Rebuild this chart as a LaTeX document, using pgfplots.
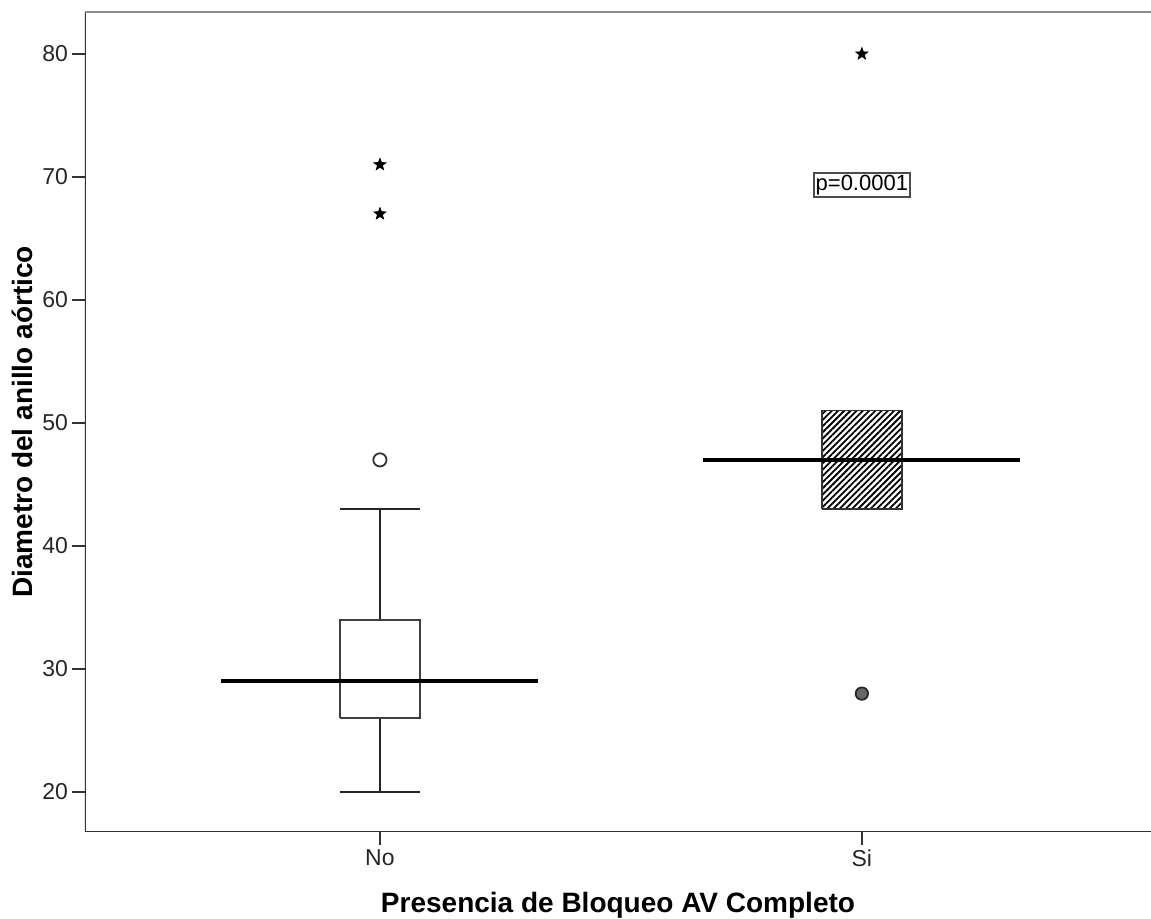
\documentclass[border=0pt]{standalone}
\usepackage{fontspec}
\setmainfont{Liberation Sans}
\usepackage{pgfplots}
\pgfplotsset{compat=1.18}
\usetikzlibrary{patterns.meta}

% filled five-pointed star for extreme values
\pgfdeclareplotmark{fstar}{%
  \pgfpathmoveto{\pgfpointpolar{90}{\pgfplotmarksize}}%
  \pgfpathlineto{\pgfpointpolar{126}{0.42\pgfplotmarksize}}%
  \pgfpathlineto{\pgfpointpolar{162}{\pgfplotmarksize}}%
  \pgfpathlineto{\pgfpointpolar{198}{0.42\pgfplotmarksize}}%
  \pgfpathlineto{\pgfpointpolar{234}{\pgfplotmarksize}}%
  \pgfpathlineto{\pgfpointpolar{270}{0.42\pgfplotmarksize}}%
  \pgfpathlineto{\pgfpointpolar{306}{\pgfplotmarksize}}%
  \pgfpathlineto{\pgfpointpolar{342}{0.42\pgfplotmarksize}}%
  \pgfpathlineto{\pgfpointpolar{18}{\pgfplotmarksize}}%
  \pgfpathlineto{\pgfpointpolar{54}{0.42\pgfplotmarksize}}%
  \pgfpathclose
  \pgfusepathqfillstroke
}

\begin{document}
\begin{tikzpicture}
\useasboundingbox (-42.5pt,-43.5pt) rectangle (533pt,416pt);
\begin{axis}[
  scale only axis,
  width=533pt, height=410pt,
  xmin=-0.612, xmax=1.6,
  ymin=16.75, ymax=83.41,
  axis line style={draw=none},
  xtick={0,1}, xticklabels={No,Si},
  ytick={20,30,40,50,60,70,80},
  xtick pos=left, ytick pos=left,
  tick align=outside,
  major tick length=6.5pt,
  tick style={black!80, line width=0.8pt},
  /pgf/number format/assume math mode=true,
  tick label style={font=\fontsize{11.5}{13}\selectfont, text=black!85},
  yticklabel style={xshift=1.5pt},
  xticklabel style={yshift=1pt},
  xlabel={Presencia de Bloqueo AV Completo},
  ylabel={Diametro del anillo aórtico},
  label style={font=\fontsize{14}{16}\selectfont\bfseries},
  xlabel style={at={(axis description cs:0.5,-0.089)}, anchor=center},
  ylabel style={at={(axis description cs:-0.0585,0.5)}, anchor=center},
]
% frame: left, bottom and top edges
\draw[black!80, line width=0.8pt] (rel axis cs:0,1) -- (rel axis cs:0,0) -- (rel axis cs:1,0);
\draw[black!45, line width=1.5pt] (rel axis cs:0,1) -- (rel axis cs:1,1);

% --- group "No" ---
\addplot[black!85, line width=0.9pt] coordinates {(0,20) (0,26)};
\addplot[black!85, line width=0.9pt] coordinates {(0,34) (0,43)};
\addplot[black!85, line width=1.3pt] coordinates {(-0.083,20) (0.083,20)};
\addplot[black!85, line width=1.3pt] coordinates {(-0.083,43) (0.083,43)};
\addplot[draw=black!75, line width=0.8pt, fill=white]
  coordinates {(-0.083,26) (0.083,26) (0.083,34) (-0.083,34) (-0.083,26)};
\addplot[black, line width=2pt] coordinates {(-0.329,29) (0.329,29)};

% --- group "Si" ---
\addplot[draw=black!80, line width=0.8pt, fill=white,
  postaction={pattern={Lines[angle=45,distance=2.2pt,line width=0.9pt]}}]
  coordinates {(0.917,43) (1.083,43) (1.083,51) (0.917,51) (0.917,43)};
\addplot[black, line width=2pt] coordinates {(0.671,47) (1.329,47)};

% outliers
\addplot[only marks, mark=o, mark size=3.3pt,
  mark options={draw=black!80, line width=0.9pt}] coordinates {(0,47)};
\addplot[only marks, mark=*, mark size=3.1pt,
  mark options={draw=black!85, fill=black!60, line width=0.9pt}] coordinates {(1,28)};
% extremes
\addplot[only marks, mark=fstar, mark size=3.2pt,
  mark options={draw=black, fill=black, line width=0.3pt}]
  coordinates {(0,67) (0,71) (1,80)};

\node[draw=black!70, line width=0.9pt, inner sep=1pt, fill=white,
  font=\fontsize{11}{12}\selectfont] at (axis cs:1,69.35) {p=0.0001};
\end{axis}
\end{tikzpicture}
\end{document}
